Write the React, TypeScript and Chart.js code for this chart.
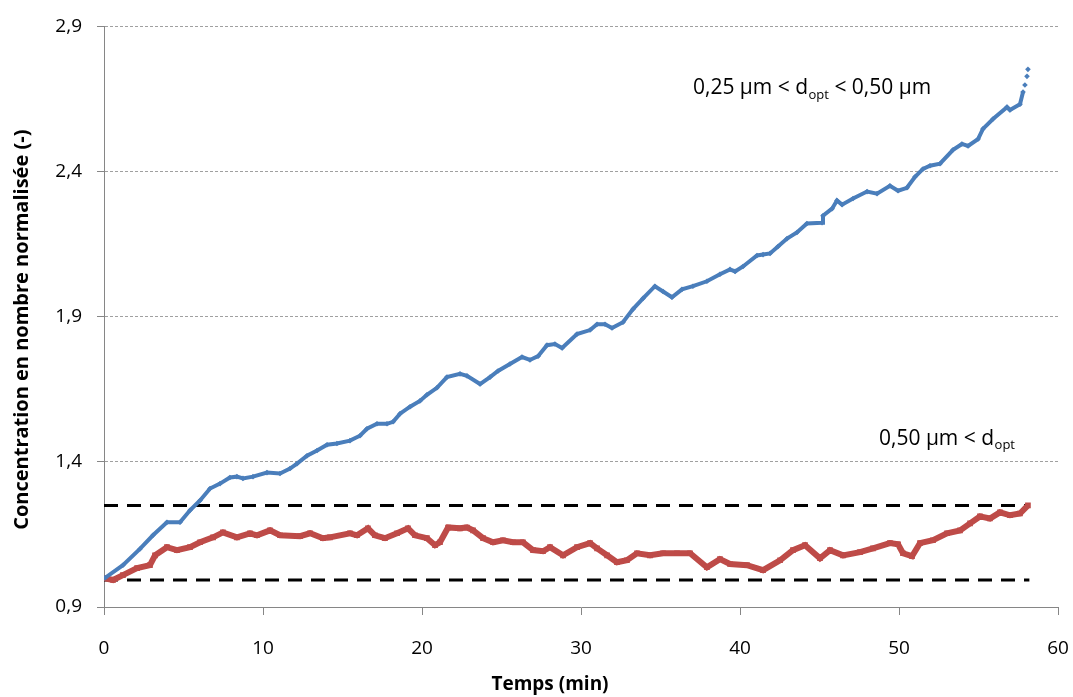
import React, { useEffect, useRef } from 'react';
import { Chart, registerables } from 'chart.js';

Chart.register(...registerables);

// Time (min) and normalised number concentration, 0.25 µm < d_opt < 0.50 µm
const blueX = [0.06, 1.19, 2.26, 3.08, 3.96, 4.78, 5.41, 6.04, 6.67, 7.30, 7.92, 8.36, 8.74, 9.37, 10.25, 11.07, 11.70, 12.14, 12.77, 13.40, 14.03, 14.65, 15.47, 16.10, 16.54, 17.17, 17.80, 18.18, 18.62, 19.25, 19.87, 20.31, 20.94, 21.57, 22.39, 22.83, 23.65, 24.28, 24.78, 25.53, 26.29, 26.79, 27.30, 27.86, 28.36, 28.81, 29.75, 30.57, 31.01, 31.51, 31.95, 32.64, 33.27, 33.90, 34.65, 35.16, 35.72, 36.35, 37.04, 37.92, 38.74, 39.37, 39.69, 40.19, 41.07, 41.45, 41.89, 42.39, 42.96, 43.58, 44.21, 45.16, 45.22, 45.79, 46.10, 46.42, 47.11, 47.99, 48.62, 49.43, 49.94, 50.50, 51.01, 51.51, 51.95, 52.58, 53.40, 53.96, 54.34, 54.97, 55.28, 55.91, 56.79, 56.98, 57.61, 57.80, 57.92, 58.05, 58.11];
const blueY = [1.0, 1.044, 1.10, 1.147, 1.192, 1.192, 1.233, 1.267, 1.308, 1.325, 1.346, 1.349, 1.343, 1.349, 1.363, 1.36, 1.377, 1.394, 1.421, 1.439, 1.459, 1.463, 1.473, 1.49, 1.514, 1.531, 1.531, 1.538, 1.566, 1.59, 1.61, 1.631, 1.655, 1.692, 1.703, 1.696, 1.668, 1.692, 1.713, 1.737, 1.761, 1.751, 1.764, 1.802, 1.806, 1.792, 1.84, 1.854, 1.874, 1.874, 1.861, 1.881, 1.926, 1.963, 2.005, 1.987, 1.967, 1.994, 2.005, 2.022, 2.046, 2.063, 2.056, 2.073, 2.111, 2.114, 2.118, 2.142, 2.169, 2.19, 2.221, 2.224, 2.248, 2.272, 2.30, 2.286, 2.307, 2.331, 2.324, 2.351, 2.334, 2.344, 2.382, 2.409, 2.42, 2.427, 2.475, 2.495, 2.488, 2.512, 2.547, 2.581, 2.622, 2.612, 2.632, 2.674, 2.698, 2.728, 2.752];

// 0.50 µm < d_opt
const redX = [0.06, 0.57, 1.19, 2.08, 2.89, 3.21, 3.96, 4.59, 5.41, 6.04, 6.86, 7.48, 8.36, 9.18, 9.62, 10.44, 11.07, 12.33, 12.96, 13.77, 14.21, 15.47, 15.91, 16.60, 17.04, 17.67, 18.43, 19.12, 19.56, 20.31, 20.82, 21.13, 21.64, 22.39, 22.83, 23.21, 23.84, 24.47, 25.09, 25.72, 26.35, 26.98, 27.61, 28.05, 28.87, 29.75, 30.57, 31.01, 31.64, 32.26, 32.89, 33.52, 34.34, 35.16, 36.04, 36.86, 37.92, 38.74, 39.37, 40.44, 41.45, 42.52, 43.33, 44.09, 45.03, 45.66, 46.48, 47.55, 48.36, 49.43, 49.94, 50.25, 50.82, 51.32, 52.14, 53.02, 53.84, 54.47, 55.09, 55.72, 56.35, 56.98, 57.61, 58.11];
const redY = [0.999, 0.993, 1.010, 1.034, 1.044, 1.078, 1.106, 1.096, 1.106, 1.123, 1.140, 1.157, 1.140, 1.154, 1.147, 1.164, 1.147, 1.144, 1.154, 1.137, 1.140, 1.154, 1.147, 1.171, 1.147, 1.137, 1.154, 1.171, 1.147, 1.137, 1.113, 1.123, 1.174, 1.171, 1.174, 1.164, 1.137, 1.123, 1.130, 1.123, 1.123, 1.096, 1.092, 1.106, 1.078, 1.106, 1.120, 1.102, 1.078, 1.054, 1.061, 1.085, 1.078, 1.085, 1.085, 1.085, 1.037, 1.065, 1.048, 1.044, 1.027, 1.061, 1.096, 1.113, 1.068, 1.096, 1.078, 1.089, 1.102, 1.120, 1.116, 1.085, 1.075, 1.120, 1.130, 1.154, 1.164, 1.188, 1.212, 1.205, 1.226, 1.216, 1.222, 1.250];

// Dashed reference band
const bandX = [0, 58.2];
const bandUpper = [1.25, 1.25];
const bandLower = [0.993, 0.993];

const yMin = 0.9;
const yMax = 2.9;
const yStep = 0.5;
const xMin = 0;
const xMax = 60;
const xStep = 10;

const xTitle = 'Temps (min)';
const yTitle = 'Concentration en nombre normalisée (-)';
const blueLabel = ['0,25 µm < d', 'opt', ' < 0,50 µm'];
const blueLabelPos = [37.04, 2.687];
const redLabel = ['0,50 µm < d', 'opt', ''];
const redLabelPos = [48.74, 1.48];

const BLUE = '#4a7ebb';
const RED = '#be4b48';
const FONT = "'Open Sans', sans-serif";

const zip = (xs: number[], ys: number[]) => xs.map((x, i) => ({ x, y: ys[i] }));

const labelPlugin = {
  id: 'subLabels',
  afterDatasetsDraw(chart: any) {
    const { ctx, scales } = chart;
    const drawLabel = (parts: string[], pos: number[]) => {
      let x = scales.x.getPixelForValue(pos[0]);
      const y = scales.y.getPixelForValue(pos[1]);
      ctx.save();
      ctx.fillStyle = '#000';
      ctx.textBaseline = 'middle';
      ctx.textAlign = 'left';
      ctx.font = `21px ${FONT}`;
      ctx.fillText(parts[0], x, y);
      x += ctx.measureText(parts[0]).width;
      ctx.font = `13px ${FONT}`;
      ctx.fillText(parts[1], x + 0.5, y + 7);
      x += ctx.measureText(parts[1]).width + 0.5;
      ctx.font = `21px ${FONT}`;
      if (parts[2]) ctx.fillText(parts[2], x, y);
      ctx.restore();
    };
    drawLabel(blueLabel, blueLabelPos);
    drawLabel(redLabel, redLabelPos);
  },
  afterDraw(chart: any) {
    const { ctx, chartArea } = chart;
    ctx.save();
    ctx.fillStyle = '#000';
    ctx.textAlign = 'center';
    ctx.textBaseline = 'middle';
    ctx.font = `bold 19px ${FONT}`;
    ctx.fillText(xTitle, (chartArea.left + chartArea.right) / 2 - 31, 685);
    ctx.translate(22, (chartArea.top + chartArea.bottom) / 2 + 13);
    ctx.rotate(-Math.PI / 2);
    ctx.font = `bold 20px ${FONT}`;
    ctx.fillText(yTitle, 0, 0);
    ctx.restore();
  },
};

export default function App() {
  const ref = useRef<HTMLCanvasElement | null>(null);

  useEffect(() => {
    if (!ref.current) return;
    const chart = new Chart(ref.current, {
      type: 'line',
      data: {
        datasets: [
          {
            data: zip(bandX, bandUpper),
            borderColor: '#000',
            borderWidth: 3,
            borderDash: [14, 9],
            pointRadius: 0,
            order: 3,
          },
          {
            data: zip(bandX, bandLower),
            borderColor: '#000',
            borderWidth: 3,
            borderDash: [14, 9],
            pointRadius: 0,
            order: 3,
          },
          {
            data: zip(redX, redY),
            borderColor: RED,
            backgroundColor: RED,
            borderWidth: 6,
            pointStyle: 'rect',
            pointRadius: 4,
            pointBorderWidth: 0,
            order: 2,
          },
          {
            data: zip(blueX, blueY),
            borderColor: BLUE,
            backgroundColor: BLUE,
            borderWidth: 4,
            pointStyle: 'rectRot',
            pointRadius: 2.8,
            pointBorderWidth: 0,
            order: 1,
            segment: {
              borderColor: (c: any) => (c.p0.parsed.x >= 57.7 ? 'rgba(0,0,0,0)' : BLUE),
            },
          },
        ],
      },
      options: {
        animation: false,
        responsive: true,
        maintainAspectRatio: false,
        parsing: false as any,
        layout: { padding: { left: 0, top: 24, right: 15, bottom: 0 } },
        plugins: {
          legend: { display: false },
          tooltip: { enabled: false },
        },
        scales: {
          x: {
            type: 'linear',
            min: xMin,
            max: xMax,
            afterFit: (s: any) => {
              s.height = 90;
              s.paddingLeft = 0;
              s.paddingRight = 0;
            },
            ticks: {
              stepSize: xStep,
              color: '#000',
              padding: 22,
              maxRotation: 0,
              font: { family: FONT, size: 19 },
            },
            grid: {
              drawOnChartArea: false,
              tickLength: 8,
              tickColor: '#868686',
              color: '#868686',
            },
            border: { color: '#868686', width: 1 },
          },
          y: {
            type: 'linear',
            min: yMin,
            max: yMax,
            afterFit: (s: any) => {
              s.width = 104;
            },
            ticks: {
              stepSize: yStep,
              color: '#000',
              padding: 15,
              font: { family: FONT, size: 19 },
              callback: (v: any) => Number(v).toFixed(1).replace('.', ','),
            },
            grid: {
              color: (c: any) => (c.tick && Math.abs(c.tick.value - yMin) < 1e-6 ? 'rgba(0,0,0,0)' : '#a0a0a0'),
              tickColor: '#868686',
              tickLength: 7,
              tickBorderDash: [],
              lineWidth: 1,
            },
            border: { color: '#868686', width: 1, dash: [3, 2] },
          },
        },
      },
      plugins: [labelPlugin],
    });
    return () => chart.destroy();
  }, []);

  return (
    <div style={{ position: 'fixed', left: 0, top: 0, width: 1073, height: 697, background: '#fff' }}>
      <canvas ref={ref} />
    </div>
  );
}
